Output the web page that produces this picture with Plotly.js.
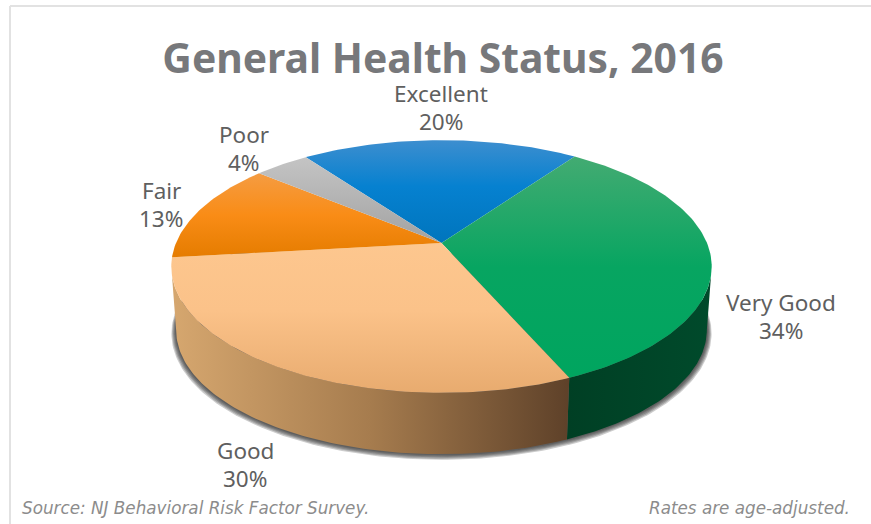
<!DOCTYPE html>
<html>
<head>
<meta charset="utf-8">
<script src="https://cdn.plot.ly/plotly-3.0.1.min.js"></script>
<style>html,body{margin:0;padding:0;background:#fff}#chart{width:871px;height:524px}</style>
</head>
<body>
<div id="chart"></div>
<script>
const categories = ["Excellent", "Very Good", "Good", "Fair", "Poor"];
const values = [20, 34, 30, 13, 4];
const chartTitle = "General Health Status, 2016";
const sourceNote = "Source: NJ Behavioral Risk Factor Survey.";
const rateNote = "Rates are age-adjusted.";

// styling and layout, kept apart from the data
const topGradients = [
  [[0,"#3d8ecf"],[0.45,"#0681d0"],[1,"#0075bd"]],
  [[0,"#43ab72"],[0.5,"#07a561"],[1,"#00a55f"]],
  [[0,"#fdc78f"],[0.45,"#fbc289"],[1,"#e8ab6f"]],
  [[0,"#f59c42"],[0.5,"#f98c16"],[1,"#e57c00"]],
  [[0,"#c4c4c4"],[1,"#a2a2a2"]]
];
const wallGradients = {
  "Very Good": [[0,"#003f24"],[1,"#004a2b"]],
  "Good": [[0,"#d6a76f"],[0.5,"#a67c4e"],[1,"#5e4129"]]
};
const labelX = [441, 781, 245, 161, 244];
const nameY = [93, 302, 450, 190, 134];
const pctY = [121, 330, 478, 218, 162];

// view of the tilted disc
const cx = 441.5, cy = 243, rx = 265.5, ry = 122, persp = 0.186, depth = 64, baseScale = 0.982;
const startAngle = -36;

function project(deg, dy, s) {
  const t = deg * Math.PI / 180, u = Math.sin(t), v = -Math.cos(t), d = 1 - persp * v;
  return [cx + s * rx * u / d, cy + dy + s * ry * v / d];
}
function arc(a0, a1, dy, s) {
  const n = Math.max(2, Math.ceil(Math.abs(a1 - a0)));
  const pts = [];
  for (let i = 0; i <= n; i++) pts.push(project(a0 + (a1 - a0) * i / n, dy, s));
  return pts;
}

const total = values.reduce((a, b) => a + b, 0);
const edges = [startAngle];
values.forEach(v => edges.push(edges[edges.length - 1] + v / total * 360));

const traces = [];
function poly(pts, extra, name) {
  traces.push(Object.assign({
    type: "scatter", mode: "lines", fill: "toself", name: name || "",
    x: pts.map(p => p[0]), y: pts.map(p => p[1]),
    line: {width: 0}, hoverinfo: name ? "name" : "skip", showlegend: false
  }, extra));
}

// soft shadow under the pie
[5, 4, 3, 2, 1].forEach(i => {
  poly(arc(60, 300, depth + i * 0.6, baseScale + i * 0.0035),
       {fillcolor: "rgba(40,40,40,0.24)"});
});

// side walls, visible between the two silhouette angles
const rightLimit = 100.7, leftLimit = 259.3;
const vgEnd = edges[categories.indexOf("Very Good") + 1];
function wall(a0, a1, cat) {
  const pts = arc(a0, a1, 0, 1).concat(arc(a1, a0, depth, baseScale));
  pts.push(pts[0]);
  const xs = pts.map(p => p[0]);
  poly(pts, {fillcolor: wallGradients[cat][0][1], fillgradient: {
    type: "horizontal", colorscale: wallGradients[cat],
    start: Math.min(...xs), stop: Math.max(...xs)
  }}, cat);
}
wall(rightLimit, vgEnd, "Very Good");
wall(vgEnd, leftLimit, "Good");

// top faces
values.forEach((v, i) => {
  const pts = [[cx, cy]].concat(arc(edges[i], edges[i + 1], 0, 1));
  pts.push([cx, cy]);
  const ys = pts.map(p => p[1]);
  poly(pts, {fillcolor: topGradients[i][1][1], fillgradient: {
    type: "vertical", colorscale: topGradients[i],
    start: Math.min(...ys), stop: Math.max(...ys)
  }}, categories[i] + ": " + v + "%");
});

const labelFont = {family: "Noto Sans", size: 22.5, color: "#5f5f5f"};
const noteFont = {family: "DejaVu Sans", size: 16.8, color: "#8c8c8c"};
const annotations = [];
categories.forEach((c, i) => {
  annotations.push({xref: "x", yref: "y", x: labelX[i], y: nameY[i], text: c, showarrow: false,
    xanchor: "center", yanchor: "middle", font: labelFont});
  annotations.push({xref: "x", yref: "y", x: labelX[i], y: pctY[i], text: values[i] + "%", showarrow: false,
    xanchor: "center", yanchor: "middle", font: labelFont});
});
annotations.push({xref: "x", yref: "y", x: 20, y: 508, text: "<i>" + sourceNote + "</i>", showarrow: false,
  xanchor: "left", yanchor: "middle", font: noteFont});
annotations.push({xref: "x", yref: "y", x: 852, y: 508, text: "<i>" + rateNote + "</i>", showarrow: false,
  xanchor: "right", yanchor: "middle", font: noteFont});

const layout = {
  width: 871, height: 524, margin: {l: 0, r: 0, t: 0, b: 0},
  paper_bgcolor: "#ffffff", plot_bgcolor: "#ffffff", showlegend: false,
  title: {text: "<b>" + chartTitle + "</b>", x: 443 / 871, xanchor: "center", y: 1 - 59 / 524, yanchor: "middle",
          font: {family: "Noto Sans", size: 40.8, color: "#77787b"}},
  xaxis: {range: [0, 871], visible: false, fixedrange: true},
  yaxis: {range: [524, 0], visible: false, fixedrange: true},
  shapes: [
    {type: "line", xref: "x", yref: "y", x0: 10, x1: 871, y0: 6, y1: 6, line: {color: "#e2e2e2", width: 2}},
    {type: "line", xref: "x", yref: "y", x0: 10, x1: 10, y0: 6, y1: 524, line: {color: "#e2e2e2", width: 2}}
  ],
  annotations: annotations
};
Plotly.newPlot("chart", traces, layout, {displayModeBar: false});
</script>
</body>
</html>
